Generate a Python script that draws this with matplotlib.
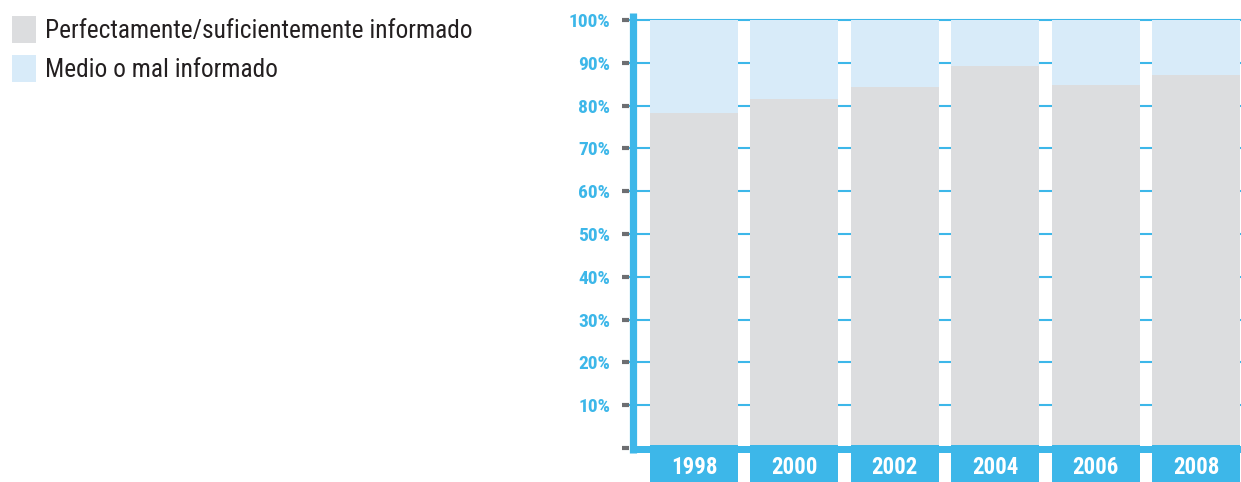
import matplotlib
matplotlib.use("Agg")
import matplotlib.pyplot as plt
from matplotlib.patches import Rectangle

years = ["1998", "2000", "2002", "2004", "2006", "2008"]
informado = [78.3, 81.5, 84.3, 89.3, 84.8, 87.1]
mal_informado = [100 - v for v in informado]
yticks = [0, 10, 20, 30, 40, 50, 60, 70, 80, 90, 100]
ytick_labels = ["", "10%", "20%", "30%", "40%", "50%", "60%", "70%", "80%", "90%", "100%"]
legend_labels = ["Perfectamente/suficientemente informado", "Medio o mal informado"]

GRAY = "#dcdddf"
LIGHT = "#d8ebf9"
BLUE = "#3db7e9"
TICKGRAY = "#6d6e71"
TEXT = "#231f20"
FONT = ["Roboto Condensed", "DejaVu Sans"]

W, H = 1241, 482
fig = plt.figure(figsize=(W / 100, H / 100), dpi=100)

# axes placed in pixel coordinates
ax_left, ax_right = 629, 1241
ax_top, ax_bot = 13, 482
ax = fig.add_axes([ax_left / W, (H - ax_bot) / H, (ax_right - ax_left) / W, (ax_bot - ax_top) / H])

px_per_unit = 4.28  # pixels per percent
y0_px = 448
ax.set_ylim((y0_px - ax_bot) / px_per_unit, (y0_px - ax_top) / px_per_unit)
step = 100.4
c0 = 694
ax.set_xlim((ax_left - c0) / step, (ax_right - c0) / step)

x = list(range(len(years)))
bw = 88 / step

# gridlines
for t in yticks[1:]:
    ax.axhline(t, color=BLUE, lw=1.5, zorder=1)

ax.bar(x, informado, width=bw, color=GRAY, zorder=2)
ax.bar(x, mal_informado, bottom=informado, width=bw, color=LIGHT, zorder=2)

# blue base strip and year boxes
ylo = ax.get_ylim()[0]
spine_x = (632.5 - c0) / step
ax.add_patch(Rectangle((spine_x, (y0_px - 453) / px_per_unit), (ax_right - 632.5) / step + 1,
                       (453 - 446) / px_per_unit, color=BLUE, zorder=3, lw=0))
box_top = (y0_px - 445) / px_per_unit
ax.bar(x, box_top - ylo, bottom=ylo, width=bw, color=BLUE, zorder=3)
for xi, yr in zip(x, years):
    ax.text(xi, (y0_px - 468) / px_per_unit, yr, ha="center", va="center", color="white",
            fontsize=16.5, fontweight="bold", family=FONT, zorder=4)

# vertical axis line
ax.plot([spine_x, spine_x], [(y0_px - 453) / px_per_unit, (y0_px - ax_top) / px_per_unit],
        color=BLUE, lw=5.2, solid_capstyle="butt", zorder=5, clip_on=False)

for s in ax.spines.values():
    s.set_visible(False)
ax.set_xticks([])
ax.set_yticks(yticks)
ax.set_yticklabels(ytick_labels)
ax.tick_params(axis="y", length=5.0, width=3, color=TICKGRAY, pad=8.5, labelcolor=BLUE)
for lab in ax.get_yticklabels():
    lab.set_fontweight("bold")
    lab.set_fontsize(14)
    lab.set_family(FONT)
for tl in ax.yaxis.get_ticklines():
    tl.set_solid_capstyle("round")

# legend
colors = [GRAY, LIGHT]
for i, (lab, col) in enumerate(zip(legend_labels, colors)):
    top = 16 + i * 39
    fig.patches.append(Rectangle((12 / W, (H - top - 27) / H), 24 / W, 27 / H,
                                 transform=fig.transFigure, color=col, lw=0))
    fig.text(45 / W, (H - top - 15) / H, lab, ha="left", va="center", fontsize=18.3,
             color=TEXT, family=FONT)

fig.savefig("out.png", dpi=100)
